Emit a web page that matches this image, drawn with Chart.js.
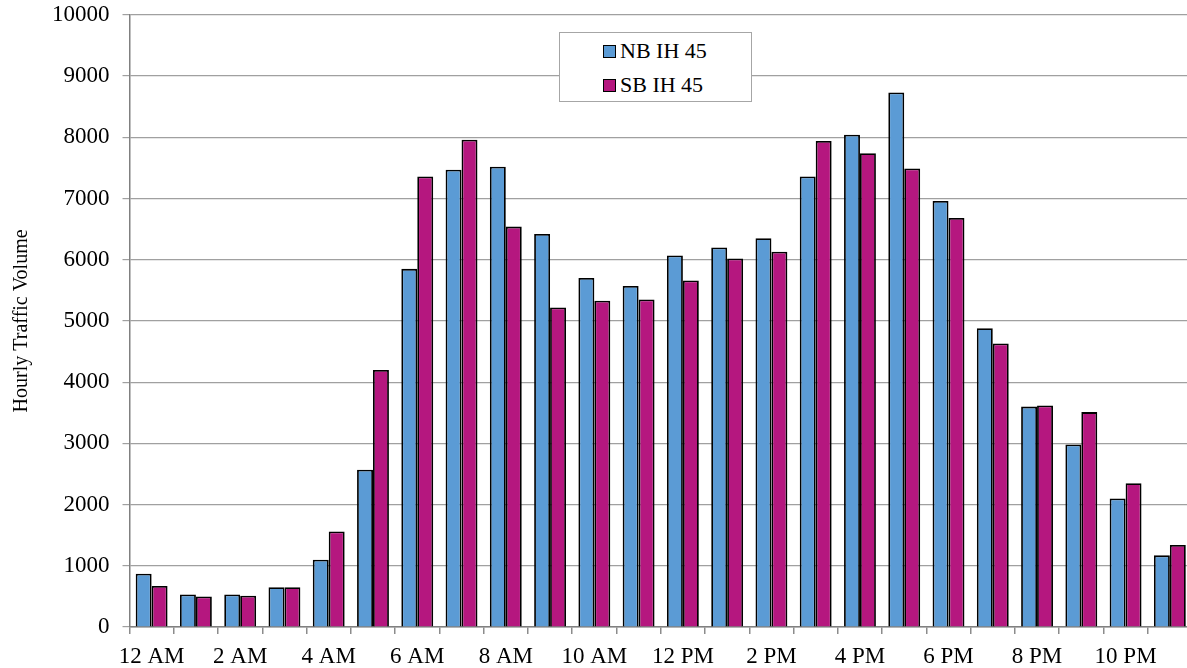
<!DOCTYPE html>
<html>
<head>
<meta charset="utf-8">
<script src="https://cdn.jsdelivr.net/npm/chart.js@4"></script>
<style>
  html, body { margin: 0; padding: 0; background: #fff; overflow: hidden; }
  #wrap { position: relative; width: 1195px; height: 668px; overflow: hidden; }
  #chart { position: absolute; left: 0; top: -12px; }
  #legend {
    position: absolute; left: 559px; top: 32px; width: 193px; height: 70px;
    border: 1px solid #a6a6a6; background: #fff; box-sizing: border-box;
    font-family: "Liberation Serif", "Times New Roman", serif; font-size: 22px; color: #000;
    padding: 1px 0 0 43px;
  }
  #legend div { height: 34px; display: flex; align-items: center; }
  #legend span.box { display: inline-block; width: 11px; height: 11px; border: 1.5px solid #000; margin-right: 4px; }
</style>
</head>
<body>
<div id="wrap">
  <canvas id="chart" width="1195" height="682"></canvas>
  <div id="legend"></div>
</div>
<script>
// Data
const hours = ['12 AM', '1 AM', '2 AM', '3 AM', '4 AM', '5 AM', '6 AM', '7 AM', '8 AM', '9 AM', '10 AM', '11 AM',
  '12 PM', '1 PM', '2 PM', '3 PM', '4 PM', '5 PM', '6 PM', '7 PM', '8 PM', '9 PM', '10 PM', '11 PM'];
const nbVolume = [870, 530, 530, 650, 1100, 2570, 5850, 7470, 7520, 6420, 5700, 5570,
  6070, 6200, 6350, 7360, 8040, 8730, 6960, 4880, 3600, 2980, 2100, 1170];
const sbVolume = [670, 500, 510, 650, 1560, 4200, 7360, 7960, 6540, 5220, 5330, 5350,
  5660, 6020, 6130, 7940, 7740, 7490, 6680, 4630, 3620, 3510, 2350, 1340];
const seriesNames = ['NB IH 45', 'SB IH 45'];
const seriesColors = ['#5b9bd5', '#b5177f'];

const serif = '"Liberation Serif", "Times New Roman", serif';

const chart = new Chart(document.getElementById('chart'), {
  type: 'bar',
  data: {
    labels: hours,
    datasets: [nbVolume, sbVolume].map((vals, i) => ({
      label: seriesNames[i],
      data: vals,
      backgroundColor: seriesColors[i],
      borderColor: '#000',
      borderWidth: 1.8,
      barPercentage: 1,
      categoryPercentage: 0.72,
    })),
  },
  options: {
    responsive: false,
    animation: false,
    layout: { padding: { top: -9, right: 3, bottom: -9, left: 9 } },
    plugins: {
      legend: { display: false },
      tooltip: { enabled: false },
    },
    scales: {
      x: {
        grid: {
          offset: true,
          drawOnChartArea: false,
          tickLength: 7,
          color: '#8c8c8c',
          lineWidth: 1.5,
        },
        border: { color: '#808080', width: 1.5 },
        ticks: {
          autoSkip: false,
          maxRotation: 0,
          padding: 11,
          color: '#000',
          font: { family: serif, size: 23, lineHeight: 1 },
          callback: (v, i) => (i % 2 === 0 ? hours[i] : ''),
        },
      },
      y: {
        min: 0,
        max: 10000,
        ticks: {
          stepSize: 1000,
          padding: 13,
          color: '#000',
          font: { family: serif, size: 23 },
          callback: (v) => String(v),
        },
        grid: { color: '#a0a0a0', tickLength: 7, lineWidth: 1.2 },
        border: { color: '#808080', width: 1.5 },
        title: {
          display: true,
          text: 'Hourly Traffic Volume',
          color: '#000',
          font: { family: serif, size: 20 },
          padding: { top: 1, bottom: 5 },
        },
      },
    },
  },
});

// Legend
const legendEl = document.getElementById('legend');
chart.data.datasets.forEach((ds) => {
  const row = document.createElement('div');
  row.innerHTML = `<span class="box" style="background:${ds.backgroundColor}"></span>${ds.label}`;
  legendEl.appendChild(row);
});
</script>
</body>
</html>
